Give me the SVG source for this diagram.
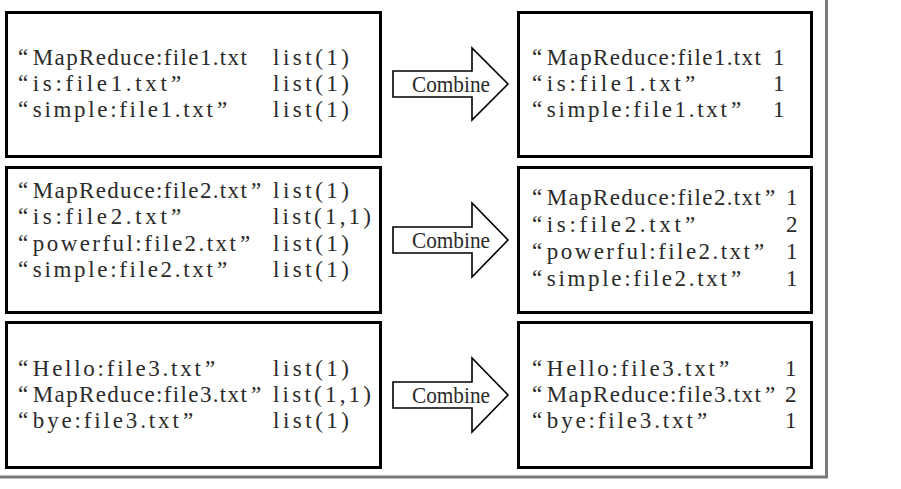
<svg xmlns="http://www.w3.org/2000/svg" width="901" height="489" viewBox="0 0 901 489">
<style>
.box{fill:#fff;stroke:#000;stroke-width:3}
.t{font-family:"Liberation Serif","Times New Roman",serif;font-size:23px;fill:#2a2a2a}
.lbl{font-family:"Liberation Serif","Times New Roman",serif;font-size:24px;fill:#2a2a2a}
.arrow{fill:#fff;stroke:#000;stroke-width:1.6;stroke-linejoin:miter}
.frame{fill:none;stroke:#7a7a7a;stroke-width:3}
</style>
<rect x="0" y="0" width="901" height="489" fill="#fff"/>
<path class="frame" d="M0,477 H826.5 V0"/>

<g id="map1">
<rect class="box" x="6.5" y="12.5" width="374" height="144"/>
<text class="t" y="65"><tspan x="18">“</tspan><tspan x="32.8" textLength="214" lengthAdjust="spacing">MapReduce:file1.txt</tspan><tspan x="273" textLength="76" lengthAdjust="spacing">list(1)</tspan></text>
<text class="t" y="91"><tspan x="18">“</tspan><tspan x="32.8" textLength="134" lengthAdjust="spacing">is:file1.txt</tspan><tspan x="171">”</tspan><tspan x="273" textLength="76" lengthAdjust="spacing">list(1)</tspan></text>
<text class="t" y="117"><tspan x="18">“</tspan><tspan x="32.8" textLength="180" lengthAdjust="spacing">simple:file1.txt</tspan><tspan x="217">”</tspan><tspan x="273" textLength="76" lengthAdjust="spacing">list(1)</tspan></text>
</g>

<g id="map2">
<rect class="box" x="6.5" y="167.5" width="374" height="145"/>
<text class="t" y="198"><tspan x="18">“</tspan><tspan x="32.8" textLength="214" lengthAdjust="spacing">MapReduce:file2.txt</tspan><tspan x="251">”</tspan><tspan x="273" textLength="76" lengthAdjust="spacing">list(1)</tspan></text>
<text class="t" y="224"><tspan x="18">“</tspan><tspan x="32.8" textLength="134" lengthAdjust="spacing">is:file2.txt</tspan><tspan x="171">”</tspan><tspan x="273" textLength="98" lengthAdjust="spacing">list(1,1)</tspan></text>
<text class="t" y="251"><tspan x="18">“</tspan><tspan x="32.8" textLength="203" lengthAdjust="spacing">powerful:file2.txt</tspan><tspan x="240">”</tspan><tspan x="273" textLength="76" lengthAdjust="spacing">list(1)</tspan></text>
<text class="t" y="277"><tspan x="18">“</tspan><tspan x="32.8" textLength="180" lengthAdjust="spacing">simple:file2.txt</tspan><tspan x="217">”</tspan><tspan x="273" textLength="76" lengthAdjust="spacing">list(1)</tspan></text>
</g>

<g id="map3">
<rect class="box" x="6.5" y="322.5" width="374" height="145"/>
<text class="t" y="376"><tspan x="18">“</tspan><tspan x="32.8" textLength="168" lengthAdjust="spacing">Hello:file3.txt</tspan><tspan x="205">”</tspan><tspan x="273" textLength="76" lengthAdjust="spacing">list(1)</tspan></text>
<text class="t" y="402"><tspan x="18">“</tspan><tspan x="32.8" textLength="214" lengthAdjust="spacing">MapReduce:file3.txt</tspan><tspan x="251">”</tspan><tspan x="273" textLength="98" lengthAdjust="spacing">list(1,1)</tspan></text>
<text class="t" y="428"><tspan x="18">“</tspan><tspan x="32.8" textLength="146" lengthAdjust="spacing">bye:file3.txt</tspan><tspan x="183">”</tspan><tspan x="273" textLength="76" lengthAdjust="spacing">list(1)</tspan></text>
</g>

<g id="combine1">
<rect class="box" x="518.5" y="12.5" width="293" height="144"/>
<text class="t" y="65"><tspan x="532">“</tspan><tspan x="546.8" textLength="214" lengthAdjust="spacing">MapReduce:file1.txt</tspan><tspan x="773">1</tspan></text>
<text class="t" y="91"><tspan x="532">“</tspan><tspan x="546.8" textLength="134" lengthAdjust="spacing">is:file1.txt</tspan><tspan x="685">”</tspan><tspan x="773">1</tspan></text>
<text class="t" y="117"><tspan x="532">“</tspan><tspan x="546.8" textLength="180" lengthAdjust="spacing">simple:file1.txt</tspan><tspan x="731">”</tspan><tspan x="773">1</tspan></text>
</g>

<g id="combine2">
<rect class="box" x="518.5" y="167.5" width="293" height="145"/>
<text class="t" y="205"><tspan x="532">“</tspan><tspan x="546.8" textLength="214" lengthAdjust="spacing">MapReduce:file2.txt</tspan><tspan x="765">”</tspan><tspan x="786">1</tspan></text>
<text class="t" y="232"><tspan x="532">“</tspan><tspan x="546.8" textLength="134" lengthAdjust="spacing">is:file2.txt</tspan><tspan x="685">”</tspan><tspan x="786">2</tspan></text>
<text class="t" y="259"><tspan x="532">“</tspan><tspan x="546.8" textLength="203" lengthAdjust="spacing">powerful:file2.txt</tspan><tspan x="754">”</tspan><tspan x="786">1</tspan></text>
<text class="t" y="286"><tspan x="532">“</tspan><tspan x="546.8" textLength="180" lengthAdjust="spacing">simple:file2.txt</tspan><tspan x="731">”</tspan><tspan x="786">1</tspan></text>
</g>

<g id="combine3">
<rect class="box" x="518.5" y="322.5" width="293" height="145"/>
<text class="t" y="376"><tspan x="532">“</tspan><tspan x="546.8" textLength="168" lengthAdjust="spacing">Hello:file3.txt</tspan><tspan x="719">”</tspan><tspan x="785">1</tspan></text>
<text class="t" y="402"><tspan x="532">“</tspan><tspan x="546.8" textLength="214" lengthAdjust="spacing">MapReduce:file3.txt</tspan><tspan x="765">”</tspan><tspan x="785">2</tspan></text>
<text class="t" y="428"><tspan x="532">“</tspan><tspan x="546.8" textLength="146" lengthAdjust="spacing">bye:file3.txt</tspan><tspan x="697">”</tspan><tspan x="785">1</tspan></text>
</g>

<g id="connectors">
<polygon class="arrow" points="393,71 472,71 472,48 508,84 472,120 472,97 393,97"/>
<text class="lbl" x="412" y="92" textLength="78" lengthAdjust="spacingAndGlyphs">Combine</text>
<polygon class="arrow" points="393,227 472,227 472,203 508,240 472,277 472,253 393,253"/>
<text class="lbl" x="412" y="248" textLength="78" lengthAdjust="spacingAndGlyphs">Combine</text>
<polygon class="arrow" points="393,382 472,382 472,358 508,395 472,432 472,408 393,408"/>
<text class="lbl" x="412" y="403" textLength="78" lengthAdjust="spacingAndGlyphs">Combine</text>
</g>
</svg>
